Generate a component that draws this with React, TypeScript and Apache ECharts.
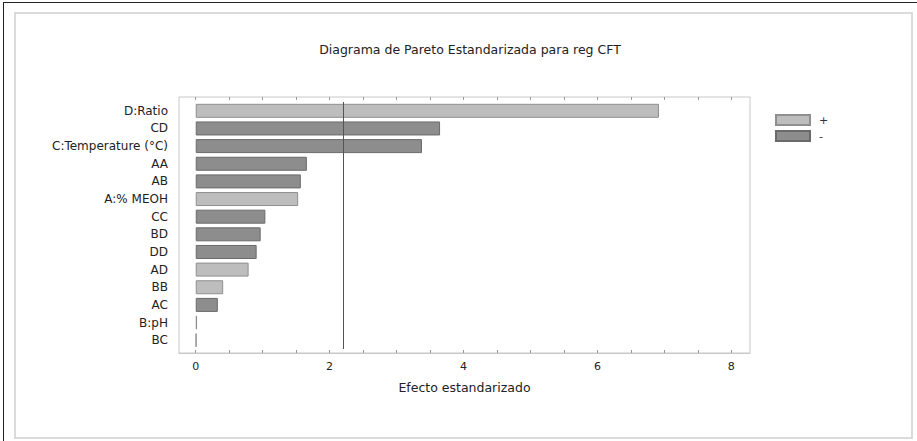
import React, { useEffect, useRef } from "react";
import * as echarts from "echarts";

const categories = [
  "D:Ratio",
  "CD",
  "C:Temperature (°C)",
  "AA",
  "AB",
  "A:% MEOH",
  "CC",
  "BD",
  "DD",
  "AD",
  "BB",
  "AC",
  "B:pH",
  "BC",
];
const effects = [6.92, 3.65, 3.38, 1.66, 1.57, 1.53, 1.04, 0.97, 0.91, 0.79, 0.41, 0.33, 0.02, 0.01];
const signs = ["+", "-", "-", "-", "-", "+", "-", "-", "-", "+", "+", "-", "+", "+"];
const criticalValue = 2.2;
const tickValues = [0, 0.5, 1, 1.5, 2, 2.5, 3, 3.5, 4, 4.5, 5, 5.5, 6, 6.5, 7, 7.5, 8];
const labelValues = [0, 2, 4, 6, 8];

const FONT = "DejaVu Sans";

export default function App() {
  const ref = useRef<HTMLDivElement>(null);
  useEffect(() => {
    if (!ref.current) return;
    const chart = echarts.init(ref.current, null, { renderer: "svg" });
    const posData = effects.map((v, i) => (signs[i] === "+" ? v : "-"));
    const negData = effects.map((v, i) => (signs[i] === "-" ? v : "-"));
    const xMin = -0.25;
    const xMax = 8.28;
    chart.setOption({
      animation: false,
      backgroundColor: "#ffffff",
      textStyle: { fontFamily: FONT },
      graphic: [
        {
          type: "rect",
          shape: { x: 15, y: 13, width: 897, height: 425 },
          style: { fill: "#ffffff", stroke: "#cfcfcf", lineWidth: 1.5 },
          z: -10,
        },
        { type: "line", shape: { x1: 3, y1: 2.5, x2: 917, y2: 2.5 }, style: { stroke: "#222", lineWidth: 1 } },
        { type: "line", shape: { x1: 3.5, y1: 2, x2: 3.5, y2: 441 }, style: { stroke: "#222", lineWidth: 1 } },
      ],
      title: {
        text: "Diagrama de Pareto Estandarizada para reg CFT",
        left: 465,
        textAlign: "center",
        top: 38,
        textStyle: { fontFamily: FONT, fontSize: 12.5, fontWeight: "normal", color: "#222" },
      },
      legend: {
        orient: "vertical",
        left: 770,
        top: 109,
        itemWidth: 34,
        itemHeight: 10,
        itemGap: 4,
        icon: "rect",
        data: ["+", "-"],
        textStyle: { fontFamily: FONT, fontSize: 11, color: "#333", padding: [0, 0, 0, 4] },
      },
      grid: [
        {
          left: 179,
          right: 167,
          top: 97,
          bottom: 88,
          show: true,
          borderColor: "#c8c8c8",
          borderWidth: 1,
        },
        {
          left: 179,
          right: 167,
          top: 102,
          bottom: 92,
        },
      ],
      xAxis: [
        {
          type: "value",
          gridIndex: 0,
          min: xMin,
          max: xMax,
          position: "bottom",
          name: "Efecto estandarizado",
          nameLocation: "middle",
          nameGap: 28,
          nameTextStyle: { fontFamily: FONT, fontSize: 12.5, color: "#222" },
          splitLine: { show: false },
          axisLine: { show: true, lineStyle: { color: "#c8c8c8" } },
          axisTick: { show: true, inside: true, length: 3, customValues: tickValues, lineStyle: { color: "#999" } },
          axisLabel: { customValues: labelValues, fontFamily: FONT, fontSize: 11, color: "#222", margin: 8 },
        },
        {
          type: "value",
          gridIndex: 0,
          min: xMin,
          max: xMax,
          position: "top",
          splitLine: { show: false },
          axisLine: { show: false },
          axisTick: { show: true, inside: true, length: 3, customValues: tickValues, lineStyle: { color: "#999" } },
          axisLabel: { show: false },
        },
        {
          type: "value",
          gridIndex: 1,
          min: xMin,
          max: xMax,
          show: false,
          splitLine: { show: false },
        },
      ],
      yAxis: [
        {
          type: "category",
          gridIndex: 0,
          show: false,
          data: categories,
        },
        {
          type: "category",
          gridIndex: 1,
          data: categories,
          inverse: true,
          axisLine: { show: false },
          axisTick: { show: false },
          axisLabel: { fontFamily: FONT, fontSize: 12, color: "#222", margin: 11 },
        },
      ],
      series: [
        {
          name: "+",
          type: "bar",
          xAxisIndex: 2,
          yAxisIndex: 1,
          stack: "s",
          barWidth: 14,
          data: posData,
          itemStyle: { color: "#bdbdbd", borderColor: "#8f8f8f", borderWidth: 1 },
          markLine: {
            silent: true,
            symbol: ["none", "none"],
            label: { show: false },
            lineStyle: { color: "#555", width: 1, type: "solid" },
            data: [{ xAxis: criticalValue }],
          },
        },
        {
          name: "-",
          type: "bar",
          xAxisIndex: 2,
          yAxisIndex: 1,
          stack: "s",
          barWidth: 14,
          data: negData,
          itemStyle: { color: "#8d8d8d", borderColor: "#6a6a6a", borderWidth: 1 },
        },
      ],
    });
    return () => chart.dispose();
  }, []);
  return (
    <div
      ref={ref}
      style={{ position: "fixed", left: 0, top: 0, width: 917, height: 441 }}
    />
  );
}
